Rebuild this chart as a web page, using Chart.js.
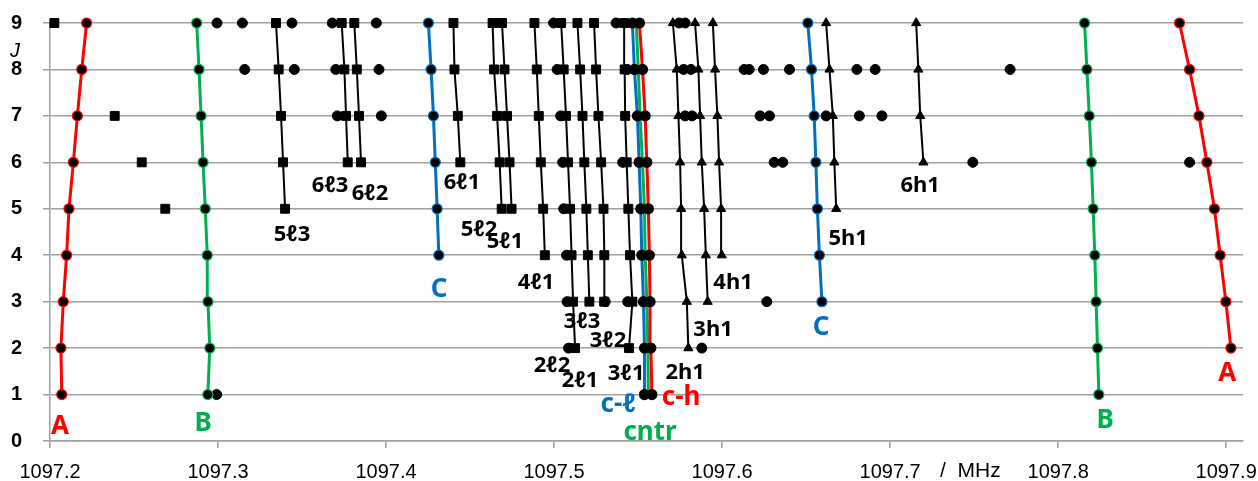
<!DOCTYPE html>
<html><head><meta charset="utf-8">
<script src="https://cdn.jsdelivr.net/npm/chart.js@4.4.0/dist/chart.umd.min.js"></script>
<style>html,body{margin:0;padding:0;background:#fff;}canvas{display:block;}</style>
</head><body>
<canvas id="c" width="1258" height="481"></canvas>
<script>
// ---------- tick labels ----------
const xTicks = [1097.2, 1097.3, 1097.4, 1097.5, 1097.6, 1097.7, 1097.8, 1097.9];
const yTicks = [0, 1, 2, 3, 4, 5, 6, 7, 8, 9];
const jAll = [1, 2, 3, 4, 5, 6, 7, 8, 9];   // every series runs up to J = 9

// ---------- coloured series (values for ascending J, ending at J=9) ----------
const A_left  = [1097.2070, 1097.2065, 1097.2079, 1097.2099, 1097.2113, 1097.2139, 1097.2163, 1097.2189, 1097.2218];
const A_right = [1097.9028, 1097.8998, 1097.8964, 1097.8930, 1097.8885, 1097.8838, 1097.8782, 1097.8722];
const B_left  = [1097.2939, 1097.2951, 1097.2940, 1097.2936, 1097.2924, 1097.2911, 1097.2899, 1097.2887, 1097.2873];
const B_right = [1097.8242, 1097.8234, 1097.8226, 1097.8218, 1097.8208, 1097.8198, 1097.8185, 1097.8171, 1097.8157];
const C_left  = [1097.4314, 1097.4304, 1097.4293, 1097.4282, 1097.4268, 1097.4252];
const C_right = [1097.6594, 1097.6579, 1097.6567, 1097.6558, 1097.6548, 1097.6532, 1097.6510];
const c_l     = [1097.5538, 1097.5538, 1097.5532, 1097.5522, 1097.5516, 1097.5506, 1097.5496, 1097.5478, 1097.5466];
const cntr    = [1097.5561, 1097.5558, 1097.5552, 1097.5542, 1097.5538, 1097.5526, 1097.5512, 1097.5501, 1097.5489];
const c_h     = [1097.5582, 1097.5576, 1097.5571, 1097.5567, 1097.5561, 1097.5552, 1097.5542, 1097.5526, 1097.5508];

// ---------- black square (l) lines ----------
const l53 = [1097.3399, 1097.3387, 1097.3375, 1097.3361, 1097.3345];
const l63 = [1097.3772, 1097.3762, 1097.3752, 1097.3736];
const l62 = [1097.3851, 1097.3839, 1097.3826, 1097.3811];
const l61 = [1097.4442, 1097.4427, 1097.4407, 1097.4401];
const l52 = [1097.4688, 1097.4676, 1097.4661, 1097.4643, 1097.4634];
const l51 = [1097.4747, 1097.4735, 1097.4720, 1097.4705, 1097.4690];
const l41 = [1097.4945, 1097.4935, 1097.4921, 1097.4909, 1097.4897, 1097.4883];
const l21 = [1097.5125, 1097.5113, 1097.5104, 1097.5095, 1097.5083, 1097.5071, 1097.5057, 1097.5042];
const l33 = [1097.5210, 1097.5201, 1097.5192, 1097.5180, 1097.5169, 1097.5155, 1097.5139];
const l32 = [1097.5298, 1097.5299, 1097.5294, 1097.5280, 1097.5264, 1097.5250, 1097.5238];
const l31 = [1097.5446, 1097.5466, 1097.5452, 1097.5442, 1097.5432, 1097.5423, 1097.5420, 1097.5417];
const l22dots = [1097.5086, 1097.5077, 1097.5074, 1097.5057, 1097.5051, 1097.5039, 1097.5018, 1097.4997];

// ---------- black triangle (h) lines ----------
const h21 = [1097.5799, 1097.5790, 1097.5760, 1097.5756, 1097.5750, 1097.5740, 1097.5730, 1097.5707];
const h31 = [1097.5914, 1097.5903, 1097.5893, 1097.5879, 1097.5869, 1097.5859, 1097.5839];
const h41 = [1097.5998, 1097.5994, 1097.5982, 1097.5972, 1097.5958, 1097.5945];
const h51 = [1097.6679, 1097.6668, 1097.6659, 1097.6639, 1097.6619];
const h61 = [1097.7198, 1097.7179, 1097.7168, 1097.7155];

// ---------- loose markers ----------
const sqX = [1097.2686, 1097.2546, 1097.2385, 1097.2026];
const sqJ = [5, 6, 7, 9];
const dots1 = [1097.2992];
const dots2 = [1097.5879];
const dots3 = [1097.5304, 1097.5438, 1097.6266];
const dots6 = [1097.5408, 1097.6310, 1097.6361, 1097.7492, 1097.8782];
const dots7 = [1097.3710, 1097.3972, 1097.5780, 1097.5821, 1097.6226, 1097.6282, 1097.6619, 1097.6817, 1097.6951];
const dots8 = [1097.3159, 1097.3454, 1097.3701, 1097.3958, 1097.5435, 1097.5771, 1097.5815, 1097.6131, 1097.6161, 1097.6246, 1097.6401, 1097.6802, 1097.6911, 1097.7714];
const dots9 = [1097.2994, 1097.3145, 1097.3440, 1097.3680, 1097.3942, 1097.5369, 1097.5744, 1097.5780];

// ---------- text labels (anchored in data units) ----------
const RED = '#FF0000', GREEN = '#00B050', BLUE = '#0070C0', BLK = '#000000';
const labels = [
  ['A', 1097.2060, 0.30, RED, 1], ['B', 1097.2911, 0.38, GREEN, 1],
  ['5ℓ3', 1097.3440, 4.44, BLK, 0], ['6ℓ3', 1097.3667, 5.50, BLK, 0], ['6ℓ2', 1097.3905, 5.32, BLK, 0],
  ['6ℓ1', 1097.4452, 5.56, BLK, 0], ['5ℓ2', 1097.4554, 4.55, BLK, 0], ['5ℓ1', 1097.4708, 4.29, BLK, 0],
  ['C', 1097.4315, 3.25, BLUE, 1], ['4ℓ1', 1097.4893, 3.40, BLK, 0], ['3ℓ3', 1097.5167, 2.56, BLK, 0],
  ['3ℓ2', 1097.5321, 2.15, BLK, 0], ['2ℓ2', 1097.4988, 1.61, BLK, 0], ['2ℓ1', 1097.5155, 1.29, BLK, 0],
  ['3ℓ1', 1097.5429, 1.44, BLK, 0], ['c-ℓ', 1097.5381, 0.79, BLUE, 1], ['c-h', 1097.5756, 0.94, RED, 1],
  ['cntr', 1097.5571, 0.19, GREEN, 1], ['2h1', 1097.5780, 1.48, BLK, 0], ['3h1', 1097.5946, 2.39, BLK, 0],
  ['4h1', 1097.6065, 3.40, BLK, 0], ['C', 1097.6589, 2.45, BLUE, 1], ['5h1', 1097.6750, 4.35, BLK, 0],
  ['6h1', 1097.7179, 5.50, BLK, 0], ['B', 1097.8280, 0.45, GREEN, 1], ['A', 1097.9006, 1.46, RED, 1]
];

// ---------- build datasets ----------
function pts(xs, js) { js = js || jAll.slice(jAll.length - xs.length); return xs.map((v, i) => ({x: v, y: js[i]})); }
function colorLine(xs, col) {
  return {data: pts(xs), showLine: true, borderColor: col, borderWidth: 3, pointRadius: 5,
    pointBackgroundColor: BLK, pointBorderColor: col, pointBorderWidth: 1.2, clip: false, order: 2};
}
function blackLine(xs, style) {
  return {data: pts(xs), showLine: true, borderColor: BLK, borderWidth: 2, pointStyle: style,
    pointRadius: style === 'rect' ? 6.3 : 5.3, pointBackgroundColor: BLK, pointBorderColor: BLK, pointBorderWidth: 1, clip: false, order: 3};
}
function dotSet(xs, js, style) {
  return {data: pts(xs, js), showLine: false, pointStyle: style || 'circle', pointRadius: style === 'rect' ? 6.3 : 5,
    pointBackgroundColor: BLK, pointBorderColor: BLK, pointBorderWidth: 1, clip: false, order: 4};
}
const rep = (arr, j) => arr.map(() => j);

const datasets = [
  colorLine(A_left, RED), colorLine(A_right, RED), colorLine(B_left, GREEN), colorLine(B_right, GREEN),
  colorLine(C_left, BLUE), colorLine(C_right, BLUE),
  {data: pts(cntr), showLine: true, borderColor: GREEN, borderWidth: 3, pointRadius: 0, clip: false, order: 1},
  Object.assign(colorLine(c_l, BLUE), {pointBorderColor: BLK, order: 0}),
  Object.assign(colorLine(c_h, RED), {pointBorderColor: BLK, order: 0}),
  blackLine(l53, 'rect'), blackLine(l63, 'rect'), blackLine(l62, 'rect'), blackLine(l61, 'rect'),
  blackLine(l52, 'rect'), blackLine(l51, 'rect'), blackLine(l41, 'rect'), blackLine(l21, 'rect'),
  blackLine(l33, 'rect'), blackLine(l32, 'rect'), blackLine(l31, 'rect'),
  blackLine(h21, 'triangle'), blackLine(h31, 'triangle'), blackLine(h41, 'triangle'),
  blackLine(h51, 'triangle'), blackLine(h61, 'triangle'),
  dotSet(l22dots), dotSet(sqX, sqJ, 'rect'),
  dotSet(dots1, rep(dots1, 1)), dotSet(dots2, rep(dots2, 2)), dotSet(dots3, rep(dots3, 3)),
  dotSet(dots6, rep(dots6, 6)), dotSet(dots7, rep(dots7, 7)), dotSet(dots8, rep(dots8, 8)), dotSet(dots9, rep(dots9, 9))
];

const GRID = '#a0a0a0';
const AXFONT = '"Liberation Sans", Arial, sans-serif';
const annot = {
  id: 'annot',
  afterDatasetsDraw(chart) {
    const {ctx, scales: {x, y}} = chart;
    ctx.save();
    ctx.textAlign = 'center'; ctx.textBaseline = 'middle';
    for (const [t, v, j, c, big] of labels) {
      ctx.font = (big ? 'bold 26px' : 'bold 22px') + ' "Noto Sans", "DejaVu Sans", sans-serif';
      ctx.fillStyle = c;
      ctx.fillText(t, x.getPixelForValue(v), y.getPixelForValue(j));
    }
    ctx.fillStyle = '#000';
    ctx.font = 'italic 20px ' + AXFONT;
    ctx.fillText('J', 15, 51);
    ctx.textAlign = 'left';
    ctx.font = '21px ' + AXFONT;
    ctx.fillText('/  MHz', 940, 471);
    ctx.restore();
  }
};

new Chart(document.getElementById('c'), {
  type: 'line',
  data: {datasets},
  plugins: [annot],
  options: {
    responsive: false, animation: false, devicePixelRatio: 1,
    layout: {autoPadding: false, padding: {top: 23, right: 15, left: 0, bottom: 0}},
    plugins: {legend: {display: false}, tooltip: {enabled: false}},
    scales: {
      x: {
        type: 'linear', min: 1097.2, max: 1097.91,
        afterBuildTicks: s => { s.ticks = xTicks.map(v => ({value: v})); },
        afterFit: s => { s.height = 40; s.paddingLeft = 0; s.paddingRight = 0; s.paddingTop = 0; s.paddingBottom = 0; },
        grid: {drawOnChartArea: false, drawTicks: true, tickLength: 7, color: GRID, lineWidth: 1.5},
        border: {display: true, color: GRID, width: 1.5},
        ticks: {font: {family: AXFONT, size: 20}, color: '#000', padding: 12, maxRotation: 0, autoSkip: false,
                callback: v => Number(v).toFixed(1)}
      },
      y: {
        type: 'linear', min: 0, max: 9,
        afterBuildTicks: s => { s.ticks = yTicks.map(v => ({value: v})); },
        afterFit: s => { s.width = 50; s.paddingLeft = 0; s.paddingRight = 0; s.paddingTop = 0; s.paddingBottom = 0; },
        grid: {color: GRID, lineWidth: 1.5, tickLength: 7},
        border: {display: true, color: GRID, width: 1.5},
        ticks: {font: {family: AXFONT, size: 20, weight: 'bold'}, color: '#000', padding: 21, autoSkip: false}
      }
    }
  }
});
</script>
</body></html>
